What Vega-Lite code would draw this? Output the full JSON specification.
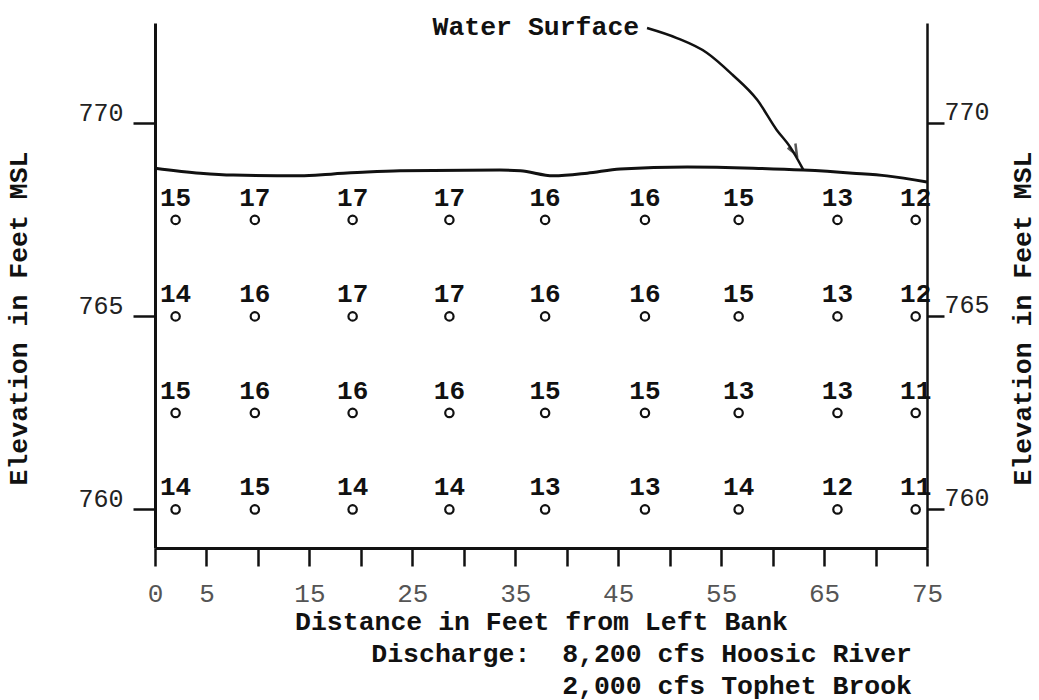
{
  "$schema": "https://vega.github.io/schema/vega-lite/v6.json",
  "width": 772,
  "height": 525,
  "autosize": {"type": "none"},
  "padding": {"left": 155, "top": 23, "right": 112, "bottom": 152},
  "background": "white",
  "config": {"view": {"stroke": null}, "font": "Liberation Mono"},
  "datasets": {
    "velocity": [
      {"x": 2.0, "elev": 767.5, "v": 15}, {"x": 9.7, "elev": 767.5, "v": 17}, {"x": 19.2, "elev": 767.5, "v": 17},
      {"x": 28.6, "elev": 767.5, "v": 17}, {"x": 37.9, "elev": 767.5, "v": 16}, {"x": 47.6, "elev": 767.5, "v": 16},
      {"x": 56.7, "elev": 767.5, "v": 15}, {"x": 66.3, "elev": 767.5, "v": 13}, {"x": 73.9, "elev": 767.5, "v": 12},
      {"x": 2.0, "elev": 765, "v": 14}, {"x": 9.7, "elev": 765, "v": 16}, {"x": 19.2, "elev": 765, "v": 17},
      {"x": 28.6, "elev": 765, "v": 17}, {"x": 37.9, "elev": 765, "v": 16}, {"x": 47.6, "elev": 765, "v": 16},
      {"x": 56.7, "elev": 765, "v": 15}, {"x": 66.3, "elev": 765, "v": 13}, {"x": 73.9, "elev": 765, "v": 12},
      {"x": 2.0, "elev": 762.5, "v": 15}, {"x": 9.7, "elev": 762.5, "v": 16}, {"x": 19.2, "elev": 762.5, "v": 16},
      {"x": 28.6, "elev": 762.5, "v": 16}, {"x": 37.9, "elev": 762.5, "v": 15}, {"x": 47.6, "elev": 762.5, "v": 15},
      {"x": 56.7, "elev": 762.5, "v": 13}, {"x": 66.3, "elev": 762.5, "v": 13}, {"x": 73.9, "elev": 762.5, "v": 11},
      {"x": 2.0, "elev": 760, "v": 14}, {"x": 9.7, "elev": 760, "v": 15}, {"x": 19.2, "elev": 760, "v": 14},
      {"x": 28.6, "elev": 760, "v": 14}, {"x": 37.9, "elev": 760, "v": 13}, {"x": 47.6, "elev": 760, "v": 13},
      {"x": 56.7, "elev": 760, "v": 14}, {"x": 66.3, "elev": 760, "v": 12}, {"x": 73.9, "elev": 760, "v": 11}
    ],
    "surface": [
      {"x": 0, "elev": 768.84}, {"x": 4.4, "elev": 768.71}, {"x": 7.6, "elev": 768.66}, {"x": 14.1, "elev": 768.64},
      {"x": 17.3, "elev": 768.69}, {"x": 20.6, "elev": 768.74}, {"x": 23.8, "elev": 768.77}, {"x": 33.5, "elev": 768.79},
      {"x": 35.5, "elev": 768.77}, {"x": 38.7, "elev": 768.64}, {"x": 42.0, "elev": 768.71}, {"x": 45.2, "elev": 768.82},
      {"x": 51.7, "elev": 768.87}, {"x": 58.1, "elev": 768.84}, {"x": 63.0, "elev": 768.79}, {"x": 67.8, "elev": 768.71},
      {"x": 71.1, "elev": 768.64}, {"x": 75, "elev": 768.48}
    ],
    "arrow": [
      {"x": 47.8, "elev": 772.47}, {"x": 50.7, "elev": 772.21}, {"x": 53.6, "elev": 771.83}, {"x": 56.1, "elev": 771.26},
      {"x": 58.5, "elev": 770.61}, {"x": 60.4, "elev": 769.83}, {"x": 61.7, "elev": 769.39}, {"x": 63.0, "elev": 768.79}
    ],
    "arrowhead": [{"x": 62.1, "elev": 769.3}],
    "label": [{"x": 37.0, "elev": 772.5, "text": "Water Surface"}]
  },
  "title": {
    "text": ["Discharge:\u00a0\u00a08,200 cfs Hoosic River", "2,000 cfs Tophet Brook"],
    "orient": "bottom",
    "anchor": "end",
    "align": "right",
    "frame": "group",
    "dx": -15,
    "offset": 6,
    "font": "Liberation Mono",
    "fontSize": 26.5,
    "fontWeight": "bold",
    "lineHeight": 32,
    "color": "#111"
  },
  "layer": [
    {
      "data": {"name": "surface"},
      "mark": {"type": "line", "interpolate": "monotone", "stroke": "#111", "strokeWidth": 3},
      "encoding": {
        "x": {
          "field": "x", "type": "quantitative",
          "scale": {"domain": [0, 75], "nice": false, "zero": false},
          "axis": {
            "values": [0, 5, 10, 15, 20, 25, 30, 35, 40, 45, 50, 55, 60, 65, 70, 75],
            "labelExpr": "datum.value == 0 || datum.value % 10 == 5 ? datum.label : ''",
            "labelOverlap": false, "labelFlush": false, "grid": false,
            "domainWidth": 3, "domainColor": "#111",
            "tickSize": 18, "tickWidth": 2.5, "tickColor": "#111",
            "labelFont": "Liberation Mono", "labelFontSize": 26, "labelColor": "#555", "labelPadding": 14,
            "title": "Distance in Feet from Left Bank",
            "titleFont": "Liberation Mono", "titleFontSize": 26.5, "titleFontWeight": "bold", "titleColor": "#111", "titlePadding": 2
          }
        },
        "y": {
          "field": "elev", "type": "quantitative",
          "scale": {"domain": [759, 772.6], "nice": false, "zero": false},
          "axis": {
            "orient": "left", "values": [760, 765, 770], "grid": false,
            "domainWidth": 3, "domainColor": "#111",
            "tickSize": 22, "tickWidth": 2.5, "tickColor": "#111",
            "labelFont": "Liberation Mono", "labelFontSize": 25, "labelColor": "#222", "labelPadding": 10, "labelOffset": -11,
            "title": "Elevation in Feet MSL",
            "titleFont": "Liberation Mono", "titleFontSize": 26.5, "titleFontWeight": "bold", "titleColor": "#111",
            "titlePadding": 45, "titleY": 295
          }
        }
      }
    },
    {
      "data": {"name": "arrow"},
      "mark": {"type": "line", "interpolate": "monotone", "stroke": "#111", "strokeWidth": 2.5},
      "encoding": {
        "x": {"field": "x", "type": "quantitative"},
        "y": {
          "field": "elev", "type": "quantitative",
          "axis": {
            "orient": "right", "values": [760, 765, 770], "grid": false,
            "domainWidth": 2.5, "domainColor": "#111",
            "tickSize": 17, "tickWidth": 2.5, "tickColor": "#111",
            "labelFont": "Liberation Mono", "labelFontSize": 25, "labelColor": "#222", "labelPadding": 0, "labelOffset": -12,
            "title": "Elevation in Feet MSL",
            "titleFont": "Liberation Mono", "titleFontSize": 26.5, "titleFontWeight": "bold", "titleColor": "#111",
            "titleAngle": 270, "titleBaseline": "top", "titlePadding": 20, "titleY": 295
          }
        }
      }
    },
    {
      "data": {"name": "arrowhead"},
      "mark": {"type": "point", "shape": "M-0.8,-1L0,1L0.8,-1", "filled": false, "stroke": "#111", "strokeWidth": 2.5, "size": 120, "angle": 331},
      "encoding": {
        "x": {"field": "x", "type": "quantitative"},
        "y": {"field": "elev", "type": "quantitative", "axis": null}
      }
    },
    {
      "data": {"name": "label"},
      "mark": {"type": "text", "font": "Liberation Mono", "fontSize": 26.5, "fontWeight": "bold", "color": "#111", "align": "center", "baseline": "middle"},
      "encoding": {
        "x": {"field": "x", "type": "quantitative"},
        "y": {"field": "elev", "type": "quantitative", "axis": null},
        "text": {"field": "text"}
      }
    },
    {
      "data": {"name": "velocity"},
      "mark": {"type": "point", "shape": "circle", "filled": false, "stroke": "#111", "strokeWidth": 2.2, "size": 70, "opacity": 1},
      "encoding": {
        "x": {"field": "x", "type": "quantitative"},
        "y": {"field": "elev", "type": "quantitative", "axis": null}
      }
    },
    {
      "data": {"name": "velocity"},
      "mark": {"type": "text", "font": "Liberation Mono", "fontSize": 26, "fontWeight": "bold", "color": "#111", "align": "center", "baseline": "middle", "dy": -22},
      "encoding": {
        "x": {"field": "x", "type": "quantitative"},
        "y": {"field": "elev", "type": "quantitative", "axis": null},
        "text": {"field": "v", "type": "quantitative"}
      }
    }
  ],
  "resolve": {"axis": {"y": "independent"}}
}
